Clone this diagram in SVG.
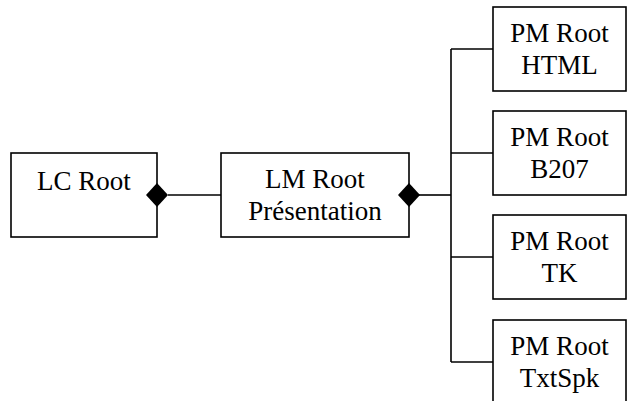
<svg xmlns="http://www.w3.org/2000/svg" width="627" height="401" viewBox="0 0 627 401">
<style>
.box{fill:#fff;stroke:#000;stroke-width:1.6}
.ln{fill:none;stroke:#000;stroke-width:1.6}
.dm{fill:#000;stroke:none}
</style>
<rect width="627" height="401" fill="#fff"/>
<g id="connectors">
<line class="ln" x1="168" y1="195" x2="221" y2="195"/>
<line class="ln" x1="419" y1="195" x2="451" y2="195"/>
<line class="ln" x1="451" y1="49" x2="451" y2="362"/>
<line class="ln" x1="451" y1="49" x2="493" y2="49"/>
<line class="ln" x1="451" y1="153" x2="493" y2="153"/>
<line class="ln" x1="451" y1="257" x2="493" y2="257"/>
<line class="ln" x1="451" y1="362" x2="493" y2="362"/>
</g>
<g font-family="Liberation Serif, DejaVu Serif, serif" font-size="27" text-anchor="middle" fill="#000">
<g id="lc-root">
<rect class="box" x="11" y="153" width="146" height="84"/>
<text x="84" y="190">LC Root</text>
<polygon class="dm" points="146,195 157,183 168,195 157,207"/>
</g>
<g id="lm-root">
<rect class="box" x="221" y="153" width="188" height="84"/>
<text x="315" y="188">LM Root</text>
<text x="315" y="220">Présentation</text>
<polygon class="dm" points="398,195 409,183 420,195 409,207"/>
</g>
<g id="pm-html">
<rect class="box" x="493" y="7" width="133" height="84"/>
<text x="559.5" y="42">PM Root</text>
<text x="559.5" y="74">HTML</text>
</g>
<g id="pm-b207">
<rect class="box" x="493" y="111" width="133" height="84"/>
<text x="559.5" y="146">PM Root</text>
<text x="559.5" y="178">B207</text>
</g>
<g id="pm-tk">
<rect class="box" x="493" y="215" width="133" height="84"/>
<text x="559.5" y="250">PM Root</text>
<text x="559.5" y="282">TK</text>
</g>
<g id="pm-txtspk">
<rect class="box" x="493" y="320" width="133" height="84"/>
<text x="559.5" y="355">PM Root</text>
<text x="559.5" y="387">TxtSpk</text>
</g>
</g>
</svg>
